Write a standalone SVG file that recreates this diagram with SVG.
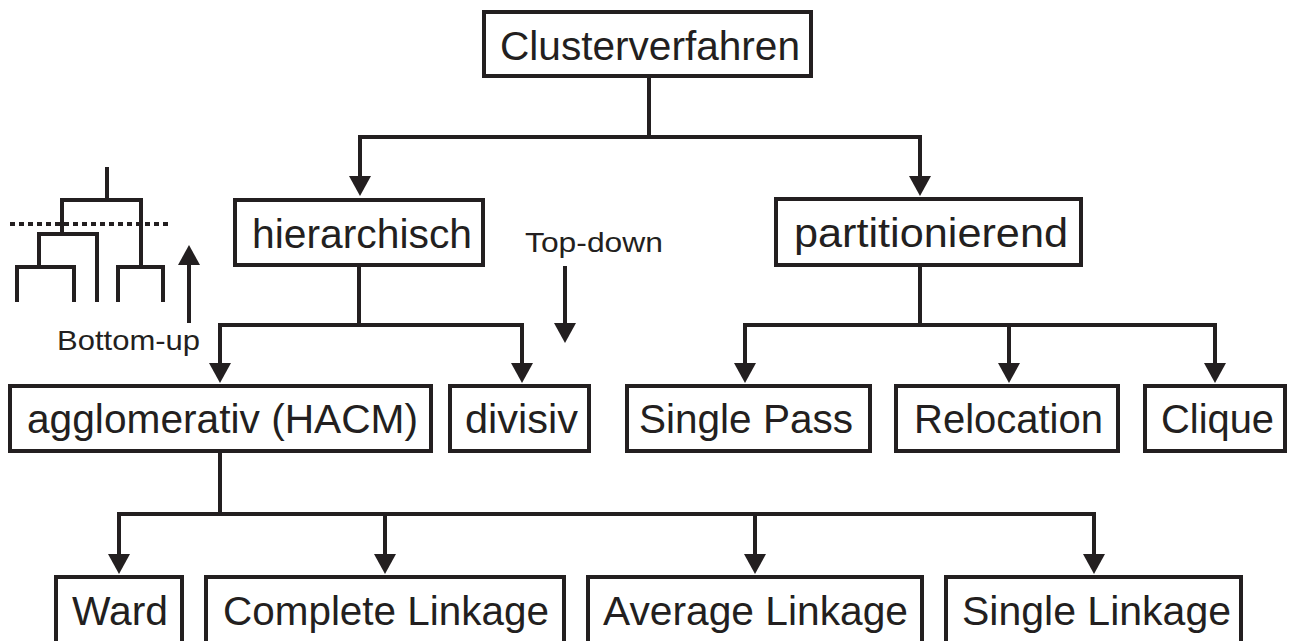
<svg xmlns="http://www.w3.org/2000/svg" width="1290" height="641" viewBox="0 0 1290 641">
<style>
.box{fill:#fff;stroke:#231f20;stroke-width:4}
.t{font-family:"Liberation Sans",Arial,sans-serif;font-size:41px;fill:#231f20}
.s{font-family:"Liberation Sans",Arial,sans-serif;font-size:28px;fill:#231f20}
.ln{fill:none;stroke:#231f20;stroke-width:4;stroke-linejoin:miter}
.ar{fill:none;stroke:#231f20;stroke-width:4;marker-end:url(#ah)}
</style>
<defs>
<marker id="ah" markerUnits="userSpaceOnUse" markerWidth="24" markerHeight="24" viewBox="0 -12 22 24" refX="1" refY="0" orient="auto">
<path d="M0,-11 L20,0 L0,11 Z" fill="#231f20"/>
</marker>
</defs>
<rect width="1290" height="641" fill="#fff"/>
<g id="connectors">
<path class="ln" d="M649,78 V137 M358,137 H922"/>
<path class="ar" d="M360,137 V177"/>
<path class="ar" d="M920,137 V177"/>
<path class="ln" d="M359,267 V325 M218,325 H524"/>
<path class="ar" d="M220,325 V364"/>
<path class="ar" d="M522,325 V364"/>
<path class="ln" d="M920,267 V325 M743,325 H1217"/>
<path class="ar" d="M745,325 V364"/>
<path class="ar" d="M1009,325 V364"/>
<path class="ar" d="M1215,325 V364"/>
<path class="ln" d="M220,453 V514 M117,514 H1096"/>
<path class="ar" d="M119,514 V555"/>
<path class="ar" d="M385,514 V555"/>
<path class="ar" d="M755,514 V555"/>
<path class="ar" d="M1094,514 V555"/>
</g>
<g id="dendrogram">
<path class="ln" d="M107,167 V200 M62,234 V200 H141 V267 M39,267 V234 H97 V302 M17,302 V267 H74 V302 M118,302 V267 H163 V302"/>
<path class="ln" d="M10,224 H172" stroke-dasharray="5 4"/>
<path class="ar" d="M189,323 V264"/>
<text class="s" x="57" y="350" textLength="143" lengthAdjust="spacingAndGlyphs">Bottom-up</text>
</g>
<g id="topdown">
<path class="ar" d="M565,266 V324"/>
<text class="s" x="525" y="252" textLength="138" lengthAdjust="spacingAndGlyphs">Top-down</text>
</g>
<g id="n-clusterverfahren">
<rect class="box" x="484" y="12" width="327" height="64"/>
<text class="t" x="500" y="60" textLength="300" lengthAdjust="spacingAndGlyphs">Clusterverfahren</text>
</g>
<g id="n-hierarchisch">
<rect class="box" x="235" y="200" width="248" height="65"/>
<text class="t" x="252" y="248" textLength="220" lengthAdjust="spacingAndGlyphs">hierarchisch</text>
</g>
<g id="n-partitionierend">
<rect class="box" x="776" y="199" width="305" height="66"/>
<text class="t" x="794" y="247" textLength="274" lengthAdjust="spacingAndGlyphs">partitionierend</text>
</g>
<g id="n-agglomerativ">
<rect class="box" x="10" y="386" width="421" height="65"/>
<text class="t" x="27" y="433" textLength="391" lengthAdjust="spacingAndGlyphs">agglomerativ (HACM)</text>
</g>
<g id="n-divisiv">
<rect class="box" x="450" y="386" width="139" height="65"/>
<text class="t" x="465" y="433" textLength="113" lengthAdjust="spacingAndGlyphs">divisiv</text>
</g>
<g id="n-singlepass">
<rect class="box" x="627" y="386" width="243" height="65"/>
<text class="t" x="639" y="433" textLength="214" lengthAdjust="spacingAndGlyphs">Single Pass</text>
</g>
<g id="n-relocation">
<rect class="box" x="896" y="386" width="222" height="65"/>
<text class="t" x="914" y="433" textLength="189" lengthAdjust="spacingAndGlyphs">Relocation</text>
</g>
<g id="n-clique">
<rect class="box" x="1145" y="386" width="140" height="65"/>
<text class="t" x="1161" y="433" textLength="113" lengthAdjust="spacingAndGlyphs">Clique</text>
</g>
<g id="n-ward">
<rect class="box" x="56" y="577" width="126" height="90"/>
<text class="t" x="72" y="625" textLength="96" lengthAdjust="spacingAndGlyphs">Ward</text>
</g>
<g id="n-complete">
<rect class="box" x="206" y="577" width="358" height="90"/>
<text class="t" x="223" y="625" textLength="326" lengthAdjust="spacingAndGlyphs">Complete Linkage</text>
</g>
<g id="n-average">
<rect class="box" x="588" y="577" width="334" height="90"/>
<text class="t" x="603" y="625" textLength="305" lengthAdjust="spacingAndGlyphs">Average Linkage</text>
</g>
<g id="n-singlelinkage">
<rect class="box" x="946" y="577" width="295" height="90"/>
<text class="t" x="962" y="625" textLength="269" lengthAdjust="spacingAndGlyphs">Single Linkage</text>
</g>
</svg>
